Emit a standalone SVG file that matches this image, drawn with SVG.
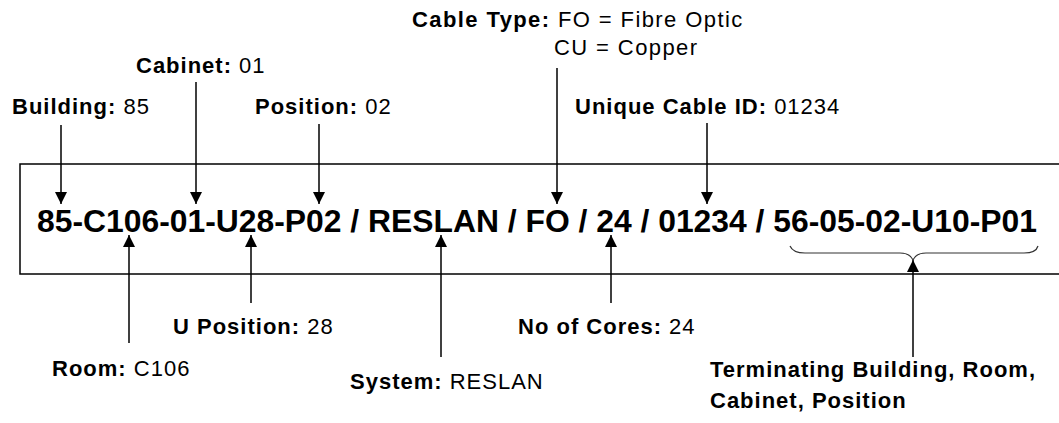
<svg xmlns="http://www.w3.org/2000/svg" width="1059" height="423" viewBox="0 0 1059 423">
<defs>
<marker id="ah" viewBox="0 0 12 12" refX="12" refY="6" markerWidth="12" markerHeight="12" markerUnits="userSpaceOnUse" orient="auto">
<path d="M0,0 L12,6 L0,12 Z" fill="#000"/>
</marker>
<style>
.lbl{font-family:"Liberation Sans",Arial,sans-serif;font-size:22px;letter-spacing:1px;fill:#000}
.b{font-weight:bold}
.main{font-family:"Liberation Sans",Arial,sans-serif;font-size:32px;font-weight:bold;fill:#000}
.ln{stroke:#000;stroke-width:1.5;fill:none;marker-end:url(#ah)}
</style>
</defs>
<rect id="box" x="20" y="164" width="1060" height="110" fill="#fff" stroke="#000" stroke-width="1.5"/>
<g id="code"><text class="main" x="37" y="232" textLength="1000" lengthAdjust="spacingAndGlyphs">85-C106-01-U28-P02 / RESLAN / FO / 24 / 01234 / 56-05-02-U10-P01</text></g>
<g id="connectors">
<line class="ln" x1="61" y1="125" x2="61" y2="204"/>
<line class="ln" x1="196" y1="82" x2="196" y2="204"/>
<line class="ln" x1="319" y1="124" x2="319" y2="204"/>
<line class="ln" x1="557" y1="68" x2="557" y2="204"/>
<line class="ln" x1="707" y1="123" x2="707" y2="204"/>
<line class="ln" x1="129" y1="343" x2="129" y2="235"/>
<line class="ln" x1="251" y1="303" x2="251" y2="235"/>
<line class="ln" x1="441" y1="357" x2="441" y2="235"/>
<line class="ln" x1="611" y1="303" x2="611" y2="235"/>
<line class="ln" x1="913" y1="357" x2="913" y2="260"/>
<path d="M790,246 Q793,253 805,253 L900,253 Q910,253 913,260 Q916,253 926,253 L1024,253 Q1036,253 1038,246" fill="none" stroke="#333" stroke-width="1.2"/>
</g>
<g id="building"><text class="lbl" x="12" y="114"><tspan class="b">Building:</tspan> 85</text></g>
<g id="cabinet"><text class="lbl" x="136" y="73"><tspan class="b">Cabinet:</tspan> 01</text></g>
<g id="position"><text class="lbl" x="255" y="114"><tspan class="b">Position:</tspan> 02</text></g>
<g id="cabletype"><text class="lbl" x="412" y="27" style="letter-spacing:1.4px"><tspan class="b">Cable Type:</tspan> FO = Fibre Optic</text><text class="lbl" x="554" y="55" style="letter-spacing:1.4px">CU = Copper</text></g>
<g id="uniqueid"><text class="lbl" x="575" y="114"><tspan class="b">Unique Cable ID:</tspan> 01234</text></g>
<g id="room"><text class="lbl" x="52" y="376"><tspan class="b">Room:</tspan> C106</text></g>
<g id="uposition"><text class="lbl" x="173" y="334"><tspan class="b">U Position:</tspan> 28</text></g>
<g id="system"><text class="lbl" x="350" y="389"><tspan class="b">System:</tspan> RESLAN</text></g>
<g id="cores"><text class="lbl" x="518" y="334"><tspan class="b">No of Cores:</tspan> 24</text></g>
<g id="terminating"><text class="lbl b" x="710" y="377">Terminating Building, Room,</text><text class="lbl b" x="710" y="408">Cabinet, Position</text></g>
</svg>
